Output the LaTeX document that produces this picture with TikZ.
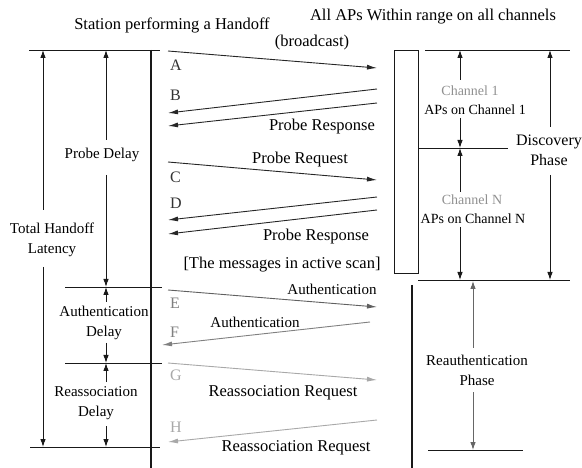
\documentclass[tikz,border=0pt]{standalone}
\usepackage{fontspec}
\setmainfont{Liberation Serif}
\usetikzlibrary{arrows.meta}
\definecolor{gE}{HTML}{606060}
\definecolor{gF}{HTML}{808080}
\definecolor{gG}{HTML}{A8A8A8}
\definecolor{gT}{HTML}{909090}
\tikzset{
  txt/.style={inner sep=0pt, font=\fontsize{16.5}{20}\selectfont},
  stxt/.style={inner sep=0pt, align=center, font=\fontsize{15}{20}\selectfont},
  ctxt/.style={inner sep=0pt, font=\fontsize{14}{16}\selectfont},
  letter/.style={inner sep=0pt, anchor=west, font=\fontsize{16}{16}\selectfont},
  thin/.style={line width=0.9pt, draw=black!90},
  thick/.style={line width=2.4pt, draw=black!90},
  dim/.style={line width=0.9pt, draw=black!90, -{Latex[length=8pt,width=5.5pt]}},
  msg/.style={line width=0.9pt, -{Latex[length=10pt,width=5pt]}},
}
\begin{document}
\begin{tikzpicture}[x=1pt,y=-1pt]
\useasboundingbox (0,0) rectangle (582,468);
% titles
\node[txt] (t1) at (172,25) {Station performing a Handoff};
\node[txt] (t2) at (433,17) {All APs Within range on all channels};
\node[txt] (bc) at (312,43) {(broadcast)};
% lifelines
\coordinate (sTop) at (151,50); \coordinate (sBot) at (151,468);
\draw[thick] (sTop) -- (sBot);
\coordinate (rTop) at (412,285); \coordinate (rBot) at (412,468);
\draw[thick] (rTop) -- (rBot);
\node[draw=black!90, line width=0.9pt, minimum width=24pt, minimum height=223pt, inner sep=0pt] (apbox) at (406,161.5) {};
% left horizontal lines
\coordinate (h1a) at (29,50);  \coordinate (h1b) at (160,50);
\coordinate (h2a) at (65,287); \coordinate (h2b) at (162,287);
\coordinate (h3a) at (65,363); \coordinate (h3b) at (162,363);
\coordinate (h4a) at (30,447); \coordinate (h4b) at (160,447);
\draw[thin] (h1a) -- (h1b);
\draw[thin] (h2a) -- (h2b);
\draw[thin] (h3a) -- (h3b);
\draw[thin] (h4a) -- (h4b);
% right horizontal lines
\coordinate (r1a) at (425,50);  \coordinate (r1b) at (570,50);
\coordinate (r2a) at (418,148); \coordinate (r2b) at (508,148);
\coordinate (r3a) at (418,280); \coordinate (r3b) at (570,280);
\coordinate (r4a) at (428,450); \coordinate (r4b) at (523,450);
\draw[thin] (r1a) -- (r1b);
\draw[thin] (r2a) -- (r2b);
\draw[thin] (r3a) -- (r3b);
\draw[thin] (r4a) -- (r4b);
% left labels
\node[stxt] (thl) at (52,240) {Total Handoff\\Latency};
\node[stxt] (pd) at (102,155) {Probe Delay};
\node[stxt] (ad) at (104,323) {Authentication\\Delay};
\node[stxt] (rd) at (96,403) {Reassociation\\Delay};
% left dimension arrows
\coordinate (thlU) at (43,210); \coordinate (thlT) at (43,50);
\coordinate (thlD) at (43,267); \coordinate (thlB) at (43,447);
\draw[dim] (thlU) -- (thlT);
\draw[dim] (thlD) -- (thlB);
\coordinate (pdU) at (106,140); \coordinate (pdT) at (106,50);
\coordinate (pdD) at (106,175); \coordinate (pdB) at (106,287);
\draw[dim] (pdU) -- (pdT);
\draw[dim] (pdD) -- (pdB);
\coordinate (adU) at (106,302); \coordinate (adT) at (106,287);
\coordinate (adD) at (106,343); \coordinate (adB) at (106,363);
\draw[dim] (adU) -- (adT);
\draw[dim] (adD) -- (adB);
\coordinate (rdU) at (106,382); \coordinate (rdT) at (106,363);
\coordinate (rdD) at (106,426); \coordinate (rdB) at (106,447);
\draw[dim] (rdU) -- (rdT);
\draw[dim] (rdD) -- (rdB);
% right labels
\node[ctxt, text=gT] (c1) at (470,91) {Channel 1};
\node[ctxt] (c1b) at (475,110) {APs on Channel 1};
\node[ctxt, text=gT] (cn) at (472,200) {Channel N};
\node[ctxt] (cnb) at (473,219) {APs on Channel N};
\node[txt, align=center, font=\fontsize{16}{20}\selectfont] (dp) at (549,150) {Discovery\\Phase};
\node[stxt] (rp) at (477,370) {Reauthentication\\Phase};
% right dimension arrows
\coordinate (c1U) at (460,80);  \coordinate (c1T) at (460,50);
\coordinate (c1D) at (460,118); \coordinate (c1B) at (460,148);
\draw[dim] (c1U) -- (c1T);
\draw[dim] (c1D) -- (c1B);
\coordinate (cnU) at (460,192); \coordinate (cnT) at (460,148);
\coordinate (cnD) at (460,227); \coordinate (cnB) at (460,280);
\draw[dim] (cnU) -- (cnT);
\draw[dim] (cnD) -- (cnB);
\coordinate (dpU) at (550,127); \coordinate (dpT) at (550,50);
\coordinate (dpD) at (550,175); \coordinate (dpB) at (550,280);
\draw[dim] (dpU) -- (dpT);
\draw[dim] (dpD) -- (dpB);
\coordinate (rpU) at (473,348); \coordinate (rpT) at (473,281);
\coordinate (rpD) at (473,392); \coordinate (rpB) at (473,450);
\draw[dim, draw=black!60] (rpU) -- (rpT);
\draw[dim, draw=black!60] (rpD) -- (rpB);
% messages
\coordinate (A0) at (168,51);  \coordinate (A1) at (377,68);
\coordinate (B0) at (377,89);  \coordinate (B1) at (168,113);
\coordinate (B2) at (377,103); \coordinate (B3) at (168,126);
\coordinate (C0) at (168,162); \coordinate (C1) at (377,180);
\coordinate (D0) at (377,197); \coordinate (D1) at (168,220);
\coordinate (D2) at (377,210); \coordinate (D3) at (168,234);
\coordinate (E0) at (168,290); \coordinate (E1) at (377,307);
\coordinate (F0) at (370,322); \coordinate (F1) at (162,345);
\coordinate (G0) at (168,363); \coordinate (G1) at (377,380);
\coordinate (H0) at (377,420); \coordinate (H1) at (168,442);
\draw[msg, black!85] (A0) -- (A1);
\draw[msg, black!85] (B0) -- (B1);
\draw[msg, black!85] (B2) -- (B3);
\draw[msg, black!85] (C0) -- (C1);
\draw[msg, black!85] (D0) -- (D1);
\draw[msg, black!85] (D2) -- (D3);
\draw[msg, gE] (E0) -- (E1);
\draw[msg, gF] (F0) -- (F1);
\draw[msg, gG] (G0) -- (G1);
\draw[msg, gG] (H0) -- (H1);
% letters
\node[letter, text=black!80] (lA) at (170,65) {A};
\node[letter, text=black!80] (lB) at (170,95) {B};
\node[letter, text=black!80] (lC) at (170,177) {C};
\node[letter, text=black!80] (lD) at (170,203) {D};
\node[letter, text=gF] (lE) at (170,303) {E};
\node[letter, text=gF] (lF) at (170,332) {F};
\node[letter, text=gG] (lG) at (170,375) {G};
\node[letter, text=gG] (lH) at (170,427) {H};
% message labels
\node[txt] (mB) at (322,127) {Probe Response};
\node[txt] (mC) at (300,160) {Probe Request};
\node[txt] (mD) at (316,237) {Probe Response};
\node[txt] (act) at (282,265) {[The messages in active scan]};
\node[stxt] (mE) at (332,289) {Authentication};
\node[stxt] (mF) at (255,322) {Authentication};
\node[txt] (mG) at (283,393) {Reassociation Request};
\node[txt] (mH) at (296,448) {Reassociation Request};
\end{tikzpicture}
\end{document}
